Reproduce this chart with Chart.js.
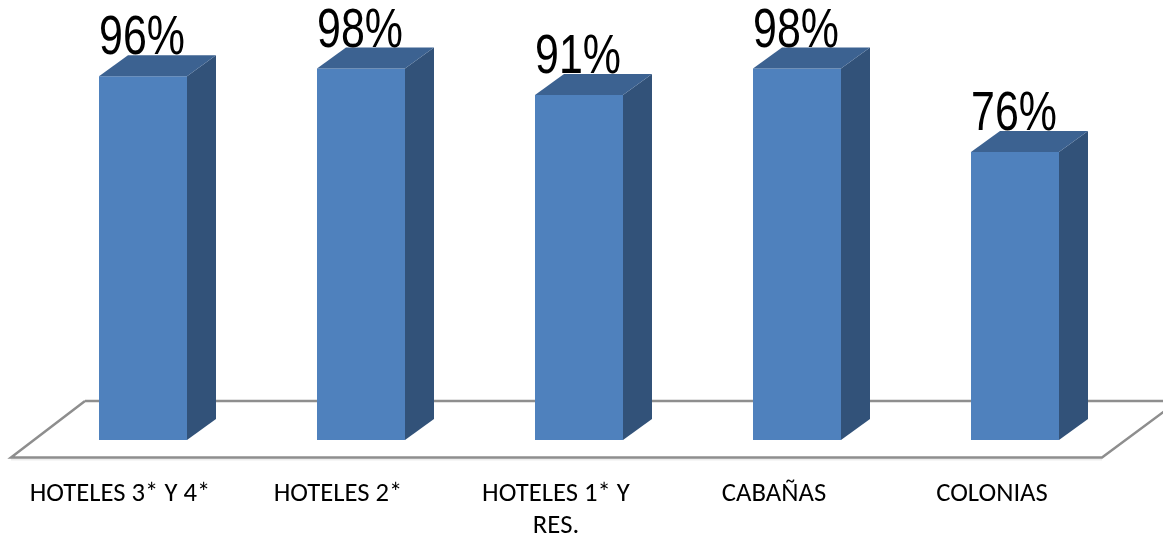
<!DOCTYPE html>
<html>
<head>
<meta charset="utf-8">
<script src="https://cdn.jsdelivr.net/npm/chart.js@4"></script>
<style>
html,body{margin:0;padding:0;background:#fff;overflow:hidden}
#wrap{position:relative;width:1163px;height:535px}
</style>
</head>
<body>
<div id="wrap"><canvas id="c"></canvas></div>
<script>
const categories = [
  "HOTELES 3* Y 4*",
  "HOTELES 2*",
  ["HOTELES 1* Y", "RES."],
  "CABAÑAS",
  "COLONIAS"
];
const values = [96, 98, 91, 98, 76];

const DEPTH_X = 29, DEPTH_Y = 21;
const FRONT = "#4F81BD", TOP = "#3C6291", SIDE = "#325279", FLOOR = "#8E8E8E";

const bar3d = {
  id: "bar3d",
  beforeDatasetsDraw(chart) {
    const ctx = chart.ctx, a = chart.chartArea;
    const front = a.bottom + 17.5, back = a.bottom - 39;
    ctx.save();
    ctx.strokeStyle = "#EDEDED";
    ctx.lineWidth = 2;
    ctx.beginPath();
    ctx.moveTo(11, front + 2);
    ctx.lineTo(a.right - 22, front + 2);
    ctx.stroke();
    ctx.strokeStyle = FLOOR;
    ctx.lineWidth = 2.5;
    ctx.lineJoin = "miter";
    ctx.beginPath();
    ctx.moveTo(a.left + 51, back);
    ctx.lineTo(11, front);
    ctx.lineTo(a.right - 22, front);
    ctx.lineTo(a.right + 39 + 1, front - 46);
    ctx.moveTo(a.left + 51, back);
    ctx.lineTo(1163, back);
    ctx.stroke();
    ctx.restore();
  },
  afterDatasetsDraw(chart) {
    const ctx = chart.ctx;
    const meta = chart.getDatasetMeta(0);
    ctx.save();
    meta.data.forEach((el, i) => {
      const p = el.getProps(["x", "y", "base", "width"], true);
      const l = p.x - p.width / 2, r = p.x + p.width / 2;
      ctx.fillStyle = SIDE;
      ctx.beginPath();
      ctx.moveTo(r, p.y);
      ctx.lineTo(r + DEPTH_X, p.y - DEPTH_Y);
      ctx.lineTo(r + DEPTH_X, p.base - DEPTH_Y);
      ctx.lineTo(r, p.base);
      ctx.closePath();
      ctx.fill();
      ctx.fillStyle = TOP;
      ctx.beginPath();
      ctx.moveTo(l, p.y);
      ctx.lineTo(l + DEPTH_X, p.y - DEPTH_Y);
      ctx.lineTo(r + DEPTH_X, p.y - DEPTH_Y);
      ctx.lineTo(r, p.y);
      ctx.closePath();
      ctx.fill();
    });
    meta.data.forEach((el, i) => {
      const p = el.getProps(["x", "y"], true);
      ctx.save();
      ctx.translate(p.x - 1, p.y - 22);
      ctx.scale(0.78, 1);
      ctx.font = '55px "Liberation Sans"';
      ctx.fillStyle = "#000";
      ctx.textAlign = "center";
      ctx.textBaseline = "alphabetic";
      ctx.fillText(values[i] + "%", 0, 0);
      ctx.restore();
    });
    ctx.restore();
  }
};

new Chart(document.getElementById("c"), {
  type: "bar",
  data: {
    labels: categories,
    datasets: [{
      data: values,
      backgroundColor: FRONT,
      borderWidth: 0,
      barPercentage: 0.4037,
      categoryPercentage: 1
    }]
  },
  plugins: [bar3d],
  options: {
    responsive: true,
    maintainAspectRatio: false,
    animation: false,
    layout: { padding: { left: 34, right: 39, top: 61, bottom: 0 } },
    plugins: { legend: { display: false }, tooltip: { enabled: false } },
    scales: {
      y: { min: 0, max: 100, display: false },
      x: {
        grid: { display: false, drawTicks: false },
        border: { display: false },
        afterFit(s) { s.height = 95; },
        ticks: {
          color: "#000",
          padding: 38,
          labelOffset: -23,
          maxRotation: 0,
          autoSkip: false,
          font: { family: "Carlito, Lato", size: 26.7, lineHeight: 1.2 }
        }
      }
    }
  }
});
</script>
</body>
</html>
